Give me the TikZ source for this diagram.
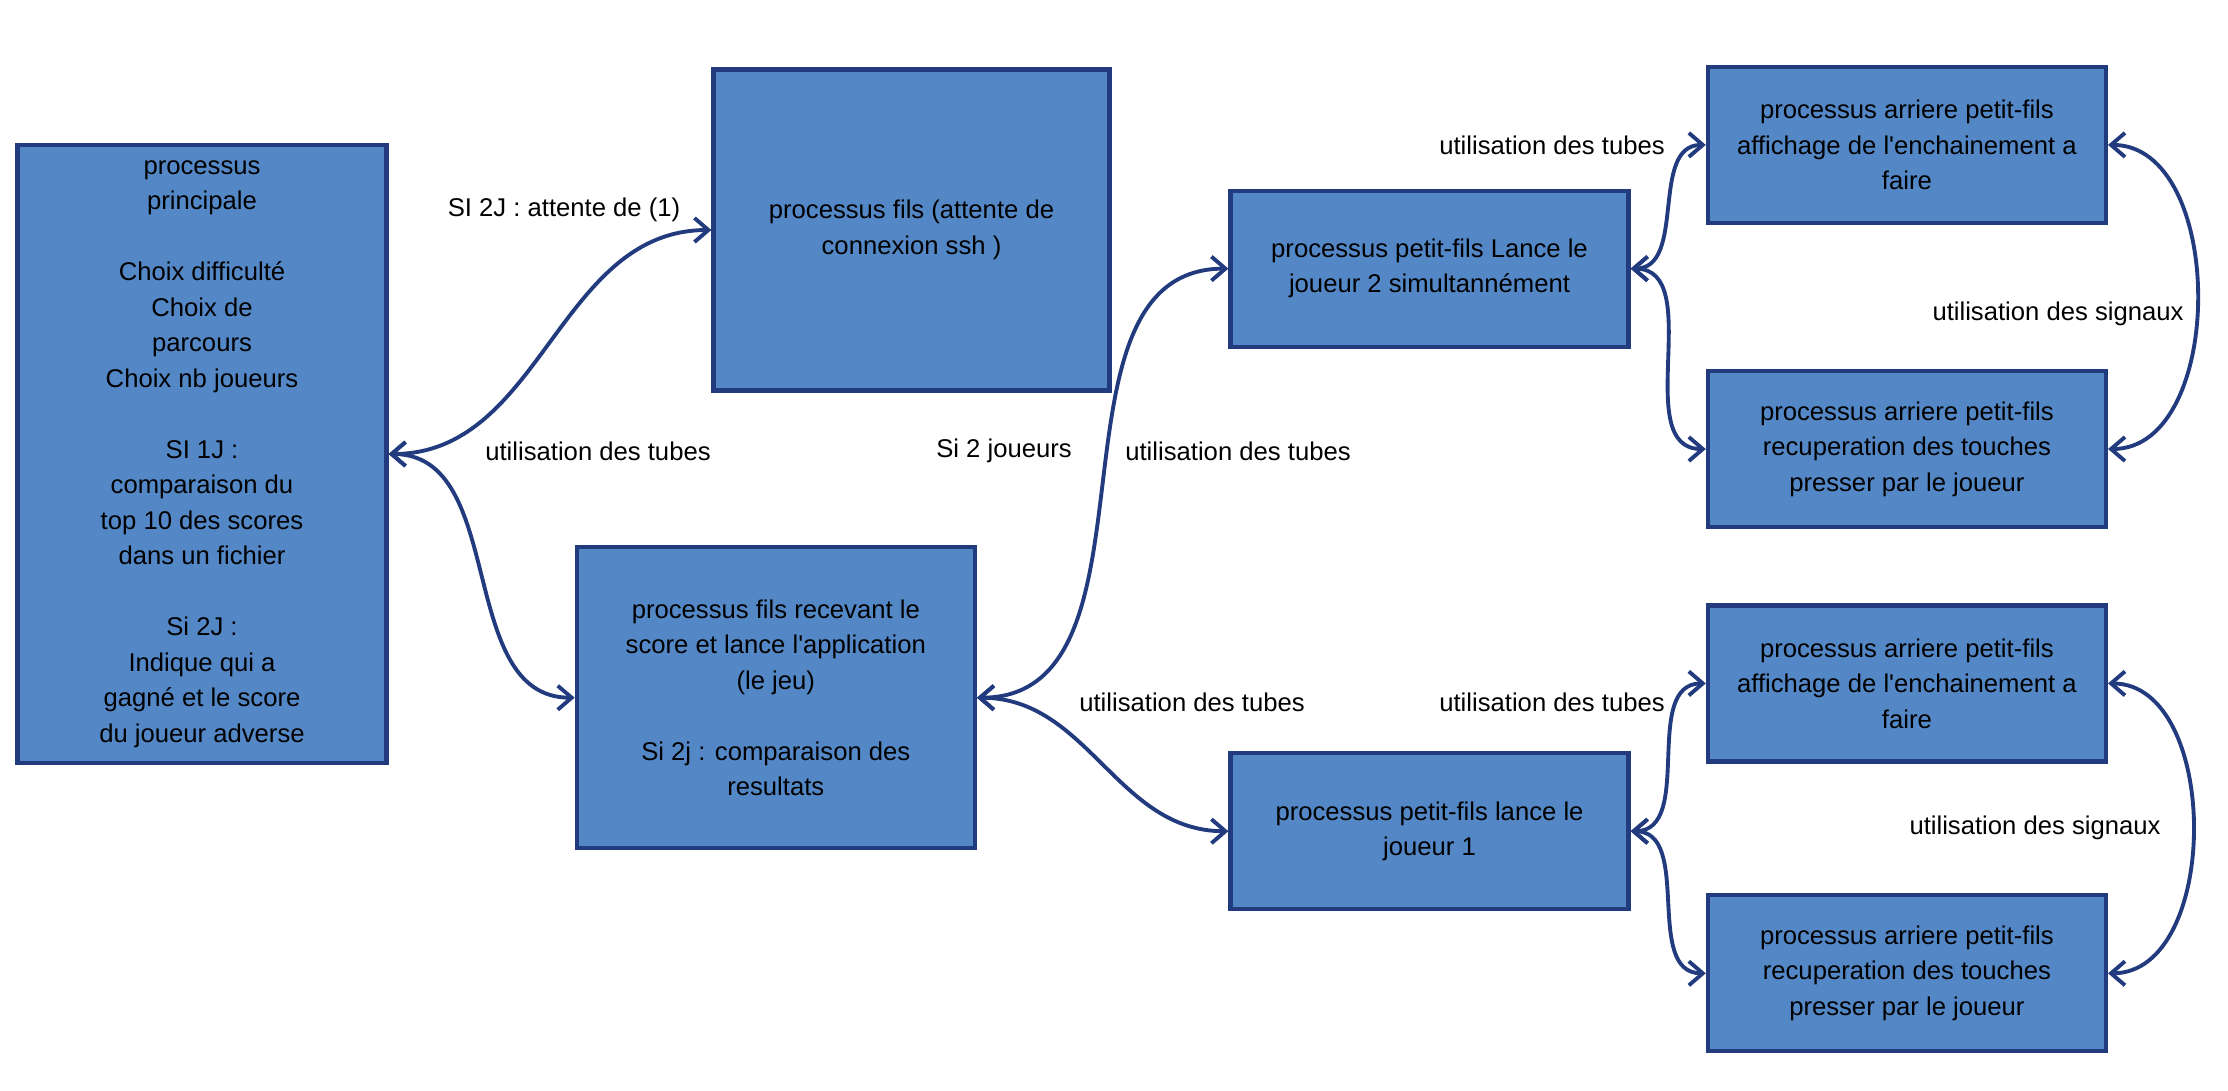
\documentclass[tikz,border=0pt]{standalone}
\usepackage{fontspec}
\setmainfont{Liberation Sans}
\usetikzlibrary{positioning, arrows.meta}
\definecolor{procfill}{RGB}{83,135,198}
\definecolor{procline}{RGB}{34,58,126}

\begin{document}
\begin{tikzpicture}[on grid, auto,
    proc/.style={draw=procline, fill=procfill, line width=1.2pt, align=center, font=\fontsize{7.3}{10.1}\selectfont},
    lbl/.style={font=\fontsize{7.3}{10.1}\selectfont},
    link/.style={<->, >={Straight Barb[length=1.4mm,width=2.4mm]}, color=procline, line width=1.1pt}]
    \useasboundingbox (0,0) rectangle (22.28,-10.90);
    \node[proc, minimum width=3.69cm, minimum height=6.18cm] (principal) at (2.02,-4.54)
        {processus\\principale\\[10.1pt]Choix difficulté\\Choix de\\parcours\\Choix nb joueurs\\[10.1pt]SI 1J :\\comparaison du\\top 10 des scores\\dans un fichier\\[10.1pt]Si 2J :\\Indique qui a\\gagné et le score\\du joueur adverse};
    \node[proc, minimum width=3.96cm, minimum height=3.21cm] (fils_ssh) [above right=2.24cm and 7.095cm of principal]
        {processus fils (attente de\\connexion ssh )};
    \node[proc, minimum width=3.98cm, minimum height=3.01cm] (fils_jeu) [below right=2.437cm and 5.738cm of principal]
        {processus fils recevant le\\score et lance l\textquotesingle application\\(le jeu)\\[10.1pt]Si 2j : comparaison des\\resultats};
    \node[proc, minimum width=3.98cm, minimum height=1.56cm] (lance_j2) [above right=4.291cm and 6.537cm of fils_jeu]
        {processus petit-fils Lance le\\joueur 2 simultannément};
    \node[proc, minimum width=3.98cm, minimum height=1.56cm] (lance_j1) [below right=1.335cm and 6.537cm of fils_jeu]
        {processus petit-fils lance le\\joueur 1};
    \node[proc, minimum width=3.98cm, minimum height=1.56cm] (affiche_j2) [above right=1.237cm and 4.774cm of lance_j2]
        {processus arriere petit-fils\\affichage de l\textquotesingle enchainement a\\faire};
    \node[proc, minimum width=3.98cm, minimum height=1.56cm] (touches_j2) [below=3.041cm of affiche_j2]
        {processus arriere petit-fils\\recuperation des touches\\presser par le joueur};
    \node[proc, minimum width=3.98cm, minimum height=1.56cm] (affiche_j1) [above right=1.478cm and 4.774cm of lance_j1]
        {processus arriere petit-fils\\affichage de l\textquotesingle enchainement a\\faire};
    \node[proc, minimum width=3.98cm, minimum height=1.56cm] (touches_j1) [below=2.899cm of affiche_j1]
        {processus arriere petit-fils\\recuperation des touches\\presser par le joueur};

    \node[lbl] (lbl_attente) at (5.64,-2.10) {SI 2J : attente de (1)};
    \node[lbl] (lbl_tubes_a) at (5.98,-4.51) {utilisation des tubes};
    \node[lbl] (lbl_si2) at (10.04,-4.51) {Si 2 joueurs};
    \node[lbl] (lbl_tubes_b) at (12.38,-4.51) {utilisation des tubes};
    \node[lbl] (lbl_tubes_c) at (15.52,-1.45) {utilisation des tubes};
    \node[lbl] (lbl_signaux_a) at (20.58,-3.14) {utilisation des signaux};
    \node[lbl] (lbl_tubes_d) at (11.92,-7.02) {utilisation des tubes};
    \node[lbl] (lbl_tubes_e) at (15.52,-7.02) {utilisation des tubes};
    \node[lbl] (lbl_signaux_b) at (20.35,-8.28) {utilisation des signaux};

    \path[link]
    (principal.east) edge[out=0, in=180] (fils_ssh.west)
    (principal.east) edge[out=0, in=180] (fils_jeu.west)
    (fils_jeu.east) edge[out=0, in=180] (lance_j2.west)
    (fils_jeu.east) edge[out=0, in=180] (lance_j1.west)
    (lance_j2.east) edge[out=0, in=180] (affiche_j2.west)
    (lance_j2.east) edge[out=0, in=180] (touches_j2.west)
    (lance_j1.east) edge[out=0, in=180] (affiche_j1.west)
    (lance_j1.east) edge[out=0, in=180] (touches_j1.west)
    (affiche_j2.east) edge[out=0, in=0] (touches_j2.east)
    (affiche_j1.east) edge[out=0, in=0] (touches_j1.east);
\end{tikzpicture}
\end{document}
